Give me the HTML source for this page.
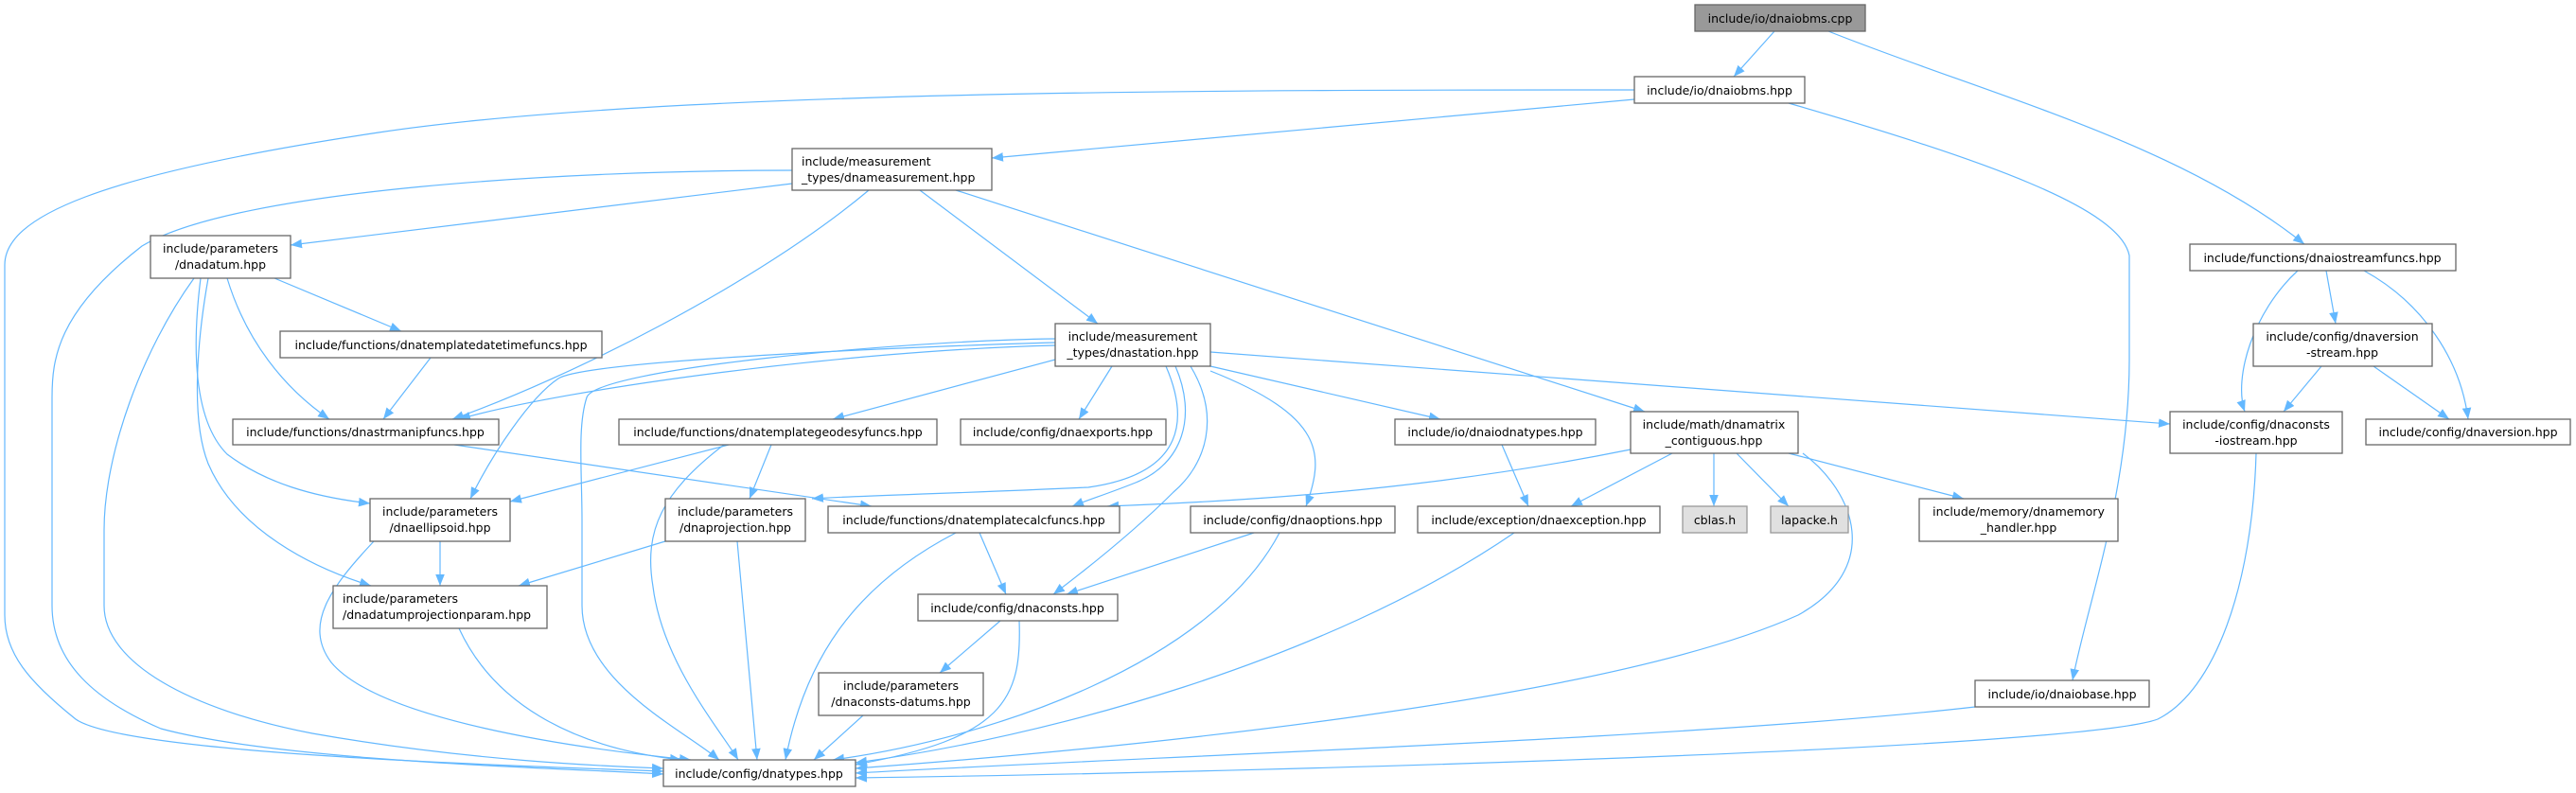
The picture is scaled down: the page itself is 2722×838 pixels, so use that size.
<!DOCTYPE html>
<html><head><meta charset="utf-8"><style>
html,body{margin:0;padding:0;background:#fff;}
svg{display:block;}
text{font-family:"DejaVu Sans","Liberation Sans",sans-serif;font-size:12.5px;fill:#000;}
.n{fill:#fff;stroke:#666;stroke-width:1.3;}
.r{fill:#999;stroke:#666;stroke-width:1.3;}
.g{fill:#e0e0e0;stroke:#999;stroke-width:1.3;}
.e{fill:none;stroke:#63b8ff;stroke-width:1.2;marker-end:url(#a);}
</style></head><body>
<svg width="2722" height="838" viewBox="0 0 2722 838" xmlns="http://www.w3.org/2000/svg">
<defs><marker id="a" viewBox="0 0 10 10" refX="10" refY="5" markerWidth="12" markerHeight="12" markerUnits="userSpaceOnUse" orient="auto"><path d="M0,1 L10,5 L0,9 z" fill="#63b8ff"/></marker></defs>
<g>
<path class="e" d="M1875,33 L1832,81"/>
<path class="e" d="M1932,33 C2100,100 2300,150 2435,258"/>
<path class="e" d="M1727,95 C1300,95 700,95 400,140 C100,185 5,230 5,280 L5,650 C5,690 30,720 80,760 C130,795 500,808 701,815"/>
<path class="e" d="M1727,105 L1048,167"/>
<path class="e" d="M1890,109 C2100,170 2240,220 2250,270 L2250,380 C2250,520 2205,640 2190,719"/>
<path class="e" d="M837,180 C600,180 250,200 150,260 C60,330 55,380 55,420 L55,640 C55,700 100,740 170,770 C300,805 600,812 701,818"/>
<path class="e" d="M837,194 L307,259"/>
<path class="e" d="M918,201 C800,300 600,400 478,443"/>
<path class="e" d="M972,201 L1160,342"/>
<path class="e" d="M1010,201 L1738,435"/>
<path class="e" d="M290,294 L424,350"/>
<path class="e" d="M240,294 C260,360 300,410 348,443"/>
<path class="e" d="M212,294 C205,350 200,440 240,480 C280,510 330,525 391,532"/>
<path class="e" d="M220,294 C210,350 200,440 220,490 C250,560 330,600 392,619"/>
<path class="e" d="M205,294 C150,370 110,480 110,560 L110,640 C110,700 200,750 330,775 C500,805 650,810 701,812"/>
<path class="e" d="M455,378 L405,443"/>
<path class="e" d="M480,470 L921,535"/>
<path class="e" d="M1115,365 C900,370 600,410 485,443"/>
<path class="e" d="M1115,380 L880,443"/>
<path class="e" d="M1175,387 L1140,443"/>
<path class="e" d="M1279,387 L1522,443"/>
<path class="e" d="M1279,372 L2293,448"/>
<path class="e" d="M1115,362 C1000,365 620,380 590,400 C560,420 520,480 497,527"/>
<path class="e" d="M1232,387 C1255,440 1255,500 1150,515 C1000,522 900,524 858,527"/>
<path class="e" d="M1242,387 C1265,440 1250,490 1200,510 C1170,522 1150,528 1133,535"/>
<path class="e" d="M1258,387 C1290,440 1275,490 1240,520 C1200,560 1150,600 1113,628"/>
<path class="e" d="M1279,392 C1400,440 1400,480 1380,535"/>
<path class="e" d="M1115,358 C950,360 630,390 620,420 C610,450 615,500 615,550 L615,640 C615,720 720,770 760,803"/>
<path class="e" d="M770,470 L539,530"/>
<path class="e" d="M815,470 L792,527"/>
<path class="e" d="M765,470 C700,520 680,560 690,620 C700,700 760,770 780,803"/>
<path class="e" d="M465,572 L465,619"/>
<path class="e" d="M395,572 C350,620 320,660 350,700 C400,760 600,790 730,803"/>
<path class="e" d="M703,572 L548,619"/>
<path class="e" d="M779,572 L800,803"/>
<path class="e" d="M485,664 C520,740 600,790 720,803"/>
<path class="e" d="M1010,563 C900,620 850,700 830,803"/>
<path class="e" d="M1035,563 L1063,628"/>
<path class="e" d="M1325,563 L1127,628"/>
<path class="e" d="M1352,563 C1280,700 1050,780 880,803"/>
<path class="e" d="M1057,656 L993,711"/>
<path class="e" d="M1077,656 C1080,740 1060,780 904,808"/>
<path class="e" d="M912,756 L860,803"/>
<path class="e" d="M1587,470 L1615,535"/>
<path class="e" d="M1723,475 C1500,520 1300,530 1170,535"/>
<path class="e" d="M1767,479 L1660,535"/>
<path class="e" d="M1811,479 L1811,535"/>
<path class="e" d="M1835,479 L1890,535"/>
<path class="e" d="M1890,479 L2075,527"/>
<path class="e" d="M1905,479 C1960,520 1990,600 1900,650 C1700,740 1200,790 904,812"/>
<path class="e" d="M1600,563 C1400,700 1100,780 904,806"/>
<path class="e" d="M2087,747 C1800,780 1200,800 904,817"/>
<path class="e" d="M2384,479 C2380,620 2340,730 2280,760 C2200,790 1400,815 904,822"/>
<path class="e" d="M2428,286 C2380,330 2360,400 2372,435"/>
<path class="e" d="M2458,286 L2468,342"/>
<path class="e" d="M2498,286 C2560,320 2600,380 2608,443"/>
<path class="e" d="M2453,387 L2413,435"/>
<path class="e" d="M2508,387 L2588,443"/>
</g>
<g text-anchor="middle">
<rect class="r" x="1791" y="5" width="180" height="28"/><text x="1881" y="24">include/io/dnaiobms.cpp</text>
<rect class="n" x="1727" y="81" width="180" height="28"/><text x="1817" y="100">include/io/dnaiobms.hpp</text>
<rect class="n" x="837" y="157" width="211" height="44"/><text x="847" y="175" text-anchor="start">include/measurement</text><text x="847" y="192" text-anchor="start">_types/dnameasurement.hpp</text>
<rect class="n" x="159" y="249" width="148" height="45"/><text x="233" y="267">include/parameters</text><text x="233" y="284">/dnadatum.hpp</text>
<rect class="n" x="296" y="350" width="340" height="28"/><text x="466" y="369">include/functions/dnatemplatedatetimefuncs.hpp</text>
<rect class="n" x="1115" y="342" width="164" height="45"/><text x="1197" y="360">include/measurement</text><text x="1197" y="377">_types/dnastation.hpp</text>
<rect class="n" x="2314" y="258" width="281" height="28"/><text x="2454" y="277">include/functions/dnaiostreamfuncs.hpp</text>
<rect class="n" x="2381" y="342" width="189" height="45"/><text x="2475" y="360">include/config/dnaversion</text><text x="2475" y="377">-stream.hpp</text>
<rect class="n" x="246" y="443" width="281" height="27"/><text x="386" y="461">include/functions/dnastrmanipfuncs.hpp</text>
<rect class="n" x="654" y="443" width="336" height="27"/><text x="822" y="461">include/functions/dnatemplategeodesyfuncs.hpp</text>
<rect class="n" x="1015" y="443" width="217" height="27"/><text x="1123" y="461">include/config/dnaexports.hpp</text>
<rect class="n" x="1474" y="443" width="212" height="27"/><text x="1580" y="461">include/io/dnaiodnatypes.hpp</text>
<rect class="n" x="1723" y="435" width="177" height="44"/><text x="1811" y="453">include/math/dnamatrix</text><text x="1811" y="470">_contiguous.hpp</text>
<rect class="n" x="2293" y="435" width="182" height="44"/><text x="2384" y="453">include/config/dnaconsts</text><text x="2384" y="470">-iostream.hpp</text>
<rect class="n" x="2500" y="443" width="216" height="27"/><text x="2608" y="461">include/config/dnaversion.hpp</text>
<rect class="n" x="391" y="527" width="148" height="45"/><text x="465" y="545">include/parameters</text><text x="465" y="562">/dnaellipsoid.hpp</text>
<rect class="n" x="703" y="527" width="148" height="45"/><text x="777" y="545">include/parameters</text><text x="777" y="562">/dnaprojection.hpp</text>
<rect class="n" x="875" y="535" width="308" height="28"/><text x="1029" y="554">include/functions/dnatemplatecalcfuncs.hpp</text>
<rect class="n" x="1258" y="535" width="216" height="28"/><text x="1366" y="554">include/config/dnaoptions.hpp</text>
<rect class="n" x="1498" y="535" width="256" height="28"/><text x="1626" y="554">include/exception/dnaexception.hpp</text>
<rect class="g" x="1778" y="535" width="68" height="28"/><text x="1812" y="554">cblas.h</text>
<rect class="g" x="1871" y="535" width="82" height="28"/><text x="1912" y="554">lapacke.h</text>
<rect class="n" x="2028" y="527" width="210" height="45"/><text x="2133" y="545">include/memory/dnamemory</text><text x="2133" y="562">_handler.hpp</text>
<rect class="n" x="352" y="619" width="226" height="45"/><text x="362" y="637" text-anchor="start">include/parameters</text><text x="362" y="654" text-anchor="start">/dnadatumprojectionparam.hpp</text>
<rect class="n" x="970" y="628" width="211" height="28"/><text x="1075" y="647">include/config/dnaconsts.hpp</text>
<rect class="n" x="865" y="711" width="174" height="45"/><text x="952" y="729">include/parameters</text><text x="952" y="746">/dnaconsts-datums.hpp</text>
<rect class="n" x="2087" y="719" width="184" height="28"/><text x="2179" y="738">include/io/dnaiobase.hpp</text>
<rect class="n" x="701" y="803" width="203" height="28"/><text x="802" y="822">include/config/dnatypes.hpp</text>
</g>
</svg>
</body></html>
